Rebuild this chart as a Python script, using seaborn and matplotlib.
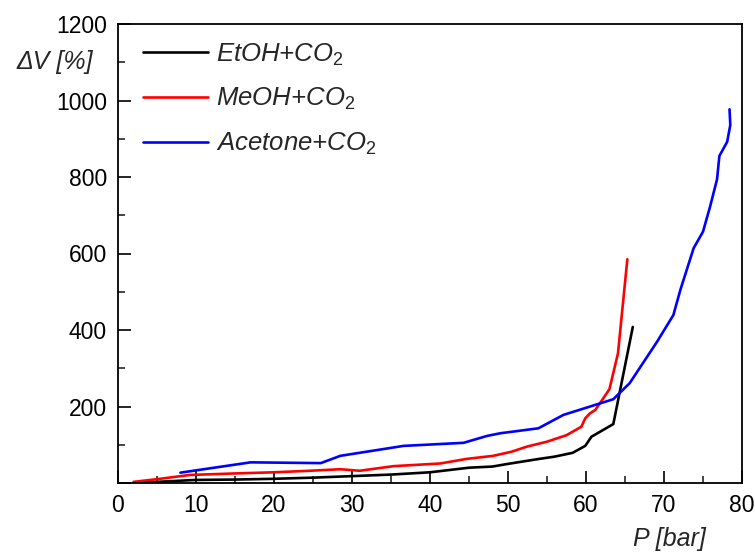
import matplotlib
matplotlib.use("Agg")
import matplotlib.pyplot as plt
import seaborn as sns
import pandas as pd
from matplotlib.ticker import MultipleLocator, FixedLocator

# ---- data ----
etoh_p = [2, 5, 10, 15, 20, 25, 30, 35, 40, 45, 48, 50, 54, 56, 58.3, 59.9, 60.7, 63.5, 66]
etoh_v = [0, 3, 8, 9, 11, 14, 18, 22, 28, 40, 43, 50, 63, 69, 79, 97, 121, 154, 408]

meoh_p = [2, 5, 9.2, 15, 20, 24.6, 28.5, 31, 35.3, 41.3, 44.7, 48.1, 50.5, 52.4, 55, 57.5,
          59.4, 59.9, 60.5, 61.2, 63, 64.1, 65.3]
meoh_v = [3, 10, 21, 25, 28, 32, 36, 32, 44, 51, 63, 71, 82, 95, 108, 125,
          147, 169, 182, 191, 245, 339, 585]

acet_p = [8, 17, 26, 28.5, 36.6, 44.3, 47.3, 49, 53.9, 57.1, 63.5, 65.6, 69.1, 71.2, 72.1,
          73.8, 75, 75.9, 76.8, 77.1, 78.1, 78.5, 78.4]
acet_v = [27, 54, 52, 71, 97, 105, 123, 130, 143, 178, 219, 261, 369, 439, 505,
          614, 657, 722, 794, 855, 892, 936, 977]

series_names = ["EtOH+CO$_{\\mathit{2}}$", "MeOH+CO$_{\\mathit{2}}$", "Acetone+CO$_{\\mathit{2}}$"]
series_colors = ["#000000", "#ff0000", "#0000ff"]

x_ticks = [0, 10, 20, 30, 40, 50, 60, 70, 80]
y_ticks = [200, 400, 600, 800, 1000, 1200]

df = pd.concat([
    pd.DataFrame({"P": etoh_p, "V": etoh_v, "s": series_names[0]}),
    pd.DataFrame({"P": meoh_p, "V": meoh_v, "s": series_names[1]}),
    pd.DataFrame({"P": acet_p, "V": acet_v, "s": series_names[2]}),
], ignore_index=True)

sns.set_style("ticks")
plt.rcParams["font.family"] = ["Liberation Sans", "DejaVu Sans"]
plt.rcParams["mathtext.fontset"] = "custom"
plt.rcParams["mathtext.rm"] = "Liberation Sans"
plt.rcParams["mathtext.it"] = "Liberation Sans:italic"

fig = plt.figure(figsize=(7.55, 5.54), dpi=100)
ax = fig.add_axes([118/755, 1-483/554, 624/755, 459/554])

sns.lineplot(data=df, x="P", y="V", hue="s", palette=series_colors, sort=False,
             estimator=None, linewidth=1.9, ax=ax)

ax.set_xlim(0, 80)
ax.set_ylim(0, 1200)
ax.xaxis.set_major_locator(FixedLocator(x_ticks))
ax.xaxis.set_minor_locator(MultipleLocator(5))
ax.yaxis.set_major_locator(FixedLocator([0] + y_ticks))
ax.yaxis.set_minor_locator(MultipleLocator(100))
ax.set_yticklabels([""] + [str(v) for v in y_ticks])
ax.set_xticklabels([str(v) for v in x_ticks])

ax.tick_params(which="major", direction="in", length=9, width=1.2, labelsize=16.5, pad=8,
               colors="black")
ax.tick_params(which="minor", direction="in", length=5, width=1.2)
for sp in ax.spines.values():
    sp.set_linewidth(1.3)
    sp.set_color("black")

ax.set_xlabel("P [bar]", fontsize=18, fontstyle="italic", ha="center", va="center")
ax.xaxis.set_label_coords(0.884, -0.122)
ax.set_ylabel("\u0394V [%]", fontsize=18, fontstyle="italic", rotation=0, ha="center", va="center")
ax.yaxis.set_label_coords(-0.101, 0.917)

handles, labels = ax.get_legend_handles_labels()
leg = ax.legend(handles, labels, loc="upper left", bbox_to_anchor=(0.04, 0.962),
                frameon=False, borderaxespad=0, borderpad=0, handlelength=2.55,
                handletextpad=0.28, labelspacing=0.72,
                prop={"size": 18.5, "style": "italic", "family": "Liberation Sans"})
for line in leg.get_lines():
    line.set_linewidth(1.9)

fig.savefig("out.png", dpi=100)
